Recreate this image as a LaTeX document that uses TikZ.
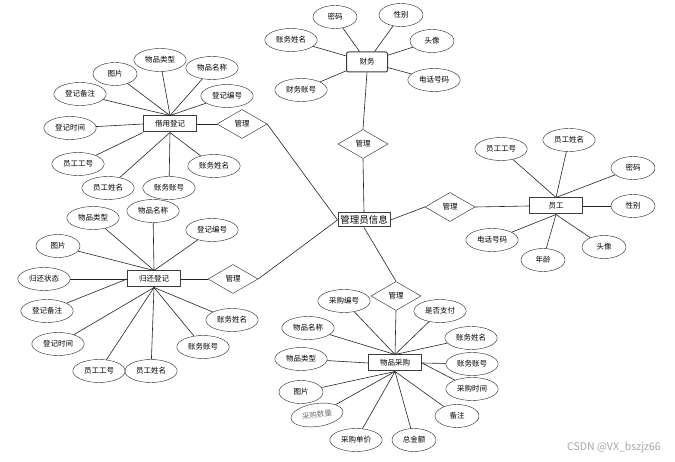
\documentclass[tikz,border=0pt]{standalone}
\usepackage{fontspec}
\setmainfont{Noto Sans CJK SC}
\usepackage{tikz}
\usetikzlibrary{shapes.geometric}
\definecolor{cLine}{RGB}{35,35,35}
\definecolor{cBox}{RGB}{60,60,60}
\definecolor{cMark}{RGB}{165,165,165}

\begin{document}
\begin{tikzpicture}[x=1pt,y=-1pt,font=\fontsize{7.5}{8}\selectfont,
  attr/.style={draw=cLine,ellipse,minimum width=44pt,minimum height=23pt,inner xsep=3.5pt,inner ysep=0pt},
  ent/.style={draw=cBox,line width=1pt,minimum width=53pt,minimum height=16pt,inner sep=1pt},
  rel/.style={draw=cLine,diamond,aspect=1.7,minimum width=50pt,minimum height=29pt,inner sep=0pt},
  lk/.style={cLine,line width=0.6pt}]
\useasboundingbox (0,0) rectangle (675,462);

\node[ent,rounded corners=2pt,minimum width=41pt,minimum height=20pt] (cw) at (367,62) {财务};
\node[ent,minimum width=52pt,minimum height=14pt,font=\fontsize{9.5}{10}\selectfont] (gly) at (364,220) {管理员信息};
\node[ent] (yg) at (556,206) {员工};
\node[ent] (jy) at (170,124) {借用登记};
\node[ent] (gh) at (154,279) {归还登记};
\node[ent] (cg) at (395,363) {物品采购};

\foreach \n/\x/\y in {gl1/363/144, gl2/450/207, gl3/242/124, gl4/233/279, gl5/396/296}
  \node[rel] (\n) at (\x,\y) {管理};

\foreach \n/\x/\y/\t in {cwa/335/17/密码, cwb/401/15/性别, cwc/291/40/账务姓名, cwd/432/41/头像,
    cwe/434/80/电话号码, cwf/301/90/财务账号,
    yga/501/149/员工工号, ygb/569/140/员工姓名, ygc/633/168/密码, ygd/633/206/性别,
    yge/604/247/头像, ygf/543/260/年龄, ygg/492/240/电话号码,
    jya/160/60/物品类型, jyb/212/68/物品名称, jyc/115/74/图片, jyd/80/94/登记备注,
    jye/227/96/登记编号, jyf/70/128/登记时间, jyg/78/164/员工工号, jyh/108/188/员工姓名,
    jyi/169/188/账务账号, jyj/214/166/账务姓名,
    gha/93/218/物品类型, ghb/153/211/物品名称, ghc/212/230/登记编号, ghd/58/246/图片,
    ghe/44/279/归还状态, ghf/47/311/登记备注, ghg/58/344/登记时间, ghh/99/371/员工工号,
    ghi/151/371/员工姓名, ghj/203/347/账务账号, ghk/232/320/账务姓名,
    cga/344/301/采购编号, cgb/440/311/是否支付, cgc/308/328/物品名称, cgd/471/338/账务姓名,
    cge/301/359/物品类型, cgf/472/364/账务账号, cgg/301/392/图片, cgh/472/389/采购时间,
    cgi/457/416/备注, cgk/356/440/采购单价, cgl/414/440/总金额}
  \node[attr] (\n) at (\x,\y) {\t};
\node[attr,rotate=8,text=black!55] (cgj) at (317,415) {采购数量};

\foreach \n/\a in {cwa/cw, cwb/cw, cwc/cw, cwd/cw, cwe/cw, cwf/cw,
    yga/yg.north, ygb/yg.north, ygc/yg.north, ygd/yg.east, yge/yg.south, ygf/yg.south, ygg/yg.south,
    jya/jy.north, jyb/jy.north, jyc/jy.north, jyd/jy.north, jye/jy.north, jyf/jy.west,
    jyg/jy.south west, jyh/jy.south, jyi/jy.south, jyj/jy.south,
    gha/gh.north, ghb/gh.north, ghc/gh.north, ghd/gh.north, ghe/gh.west, ghf/gh.west,
    ghg/gh.south, ghh/gh.south, ghi/gh.south, ghj/gh.south, ghk/gh.south,
    cga/cg.north, cgb/cg.north, cgc/cg.north, cgd/cg.north, cge/cg.west, cgf/cg.east,
    cgg/cg.south, cgh/cg.east, cgi/cg.south, cgj/cg.south, cgk/cg.south, cgl/cg.south}
  \draw[lk] (\a) -- (\n);

\draw[lk] (cw.south) -- (gl1.north);
\draw[lk] (gl1.south) -- (gly.north);
\draw[lk] (gly.east) -- (gl2.west);
\draw[lk] (gl2.east) -- (yg.west);
\draw[lk] (jy.east) -- (gl3.west);
\draw[lk] (gl3.east) -- (gly.west);
\draw[lk] (gh.east) -- (gl4.west);
\draw[lk] (gl4.east) -- (gly.west);
\draw[lk] (gly.south) -- (gl5.north);
\draw[lk] (gl5.south) -- (cg.north);

\node[text=cMark,font=\fontsize{10.5}{11}\selectfont] (wm) at (614,448) {CSDN @VX\_bszjz66};
\end{tikzpicture}
\end{document}
